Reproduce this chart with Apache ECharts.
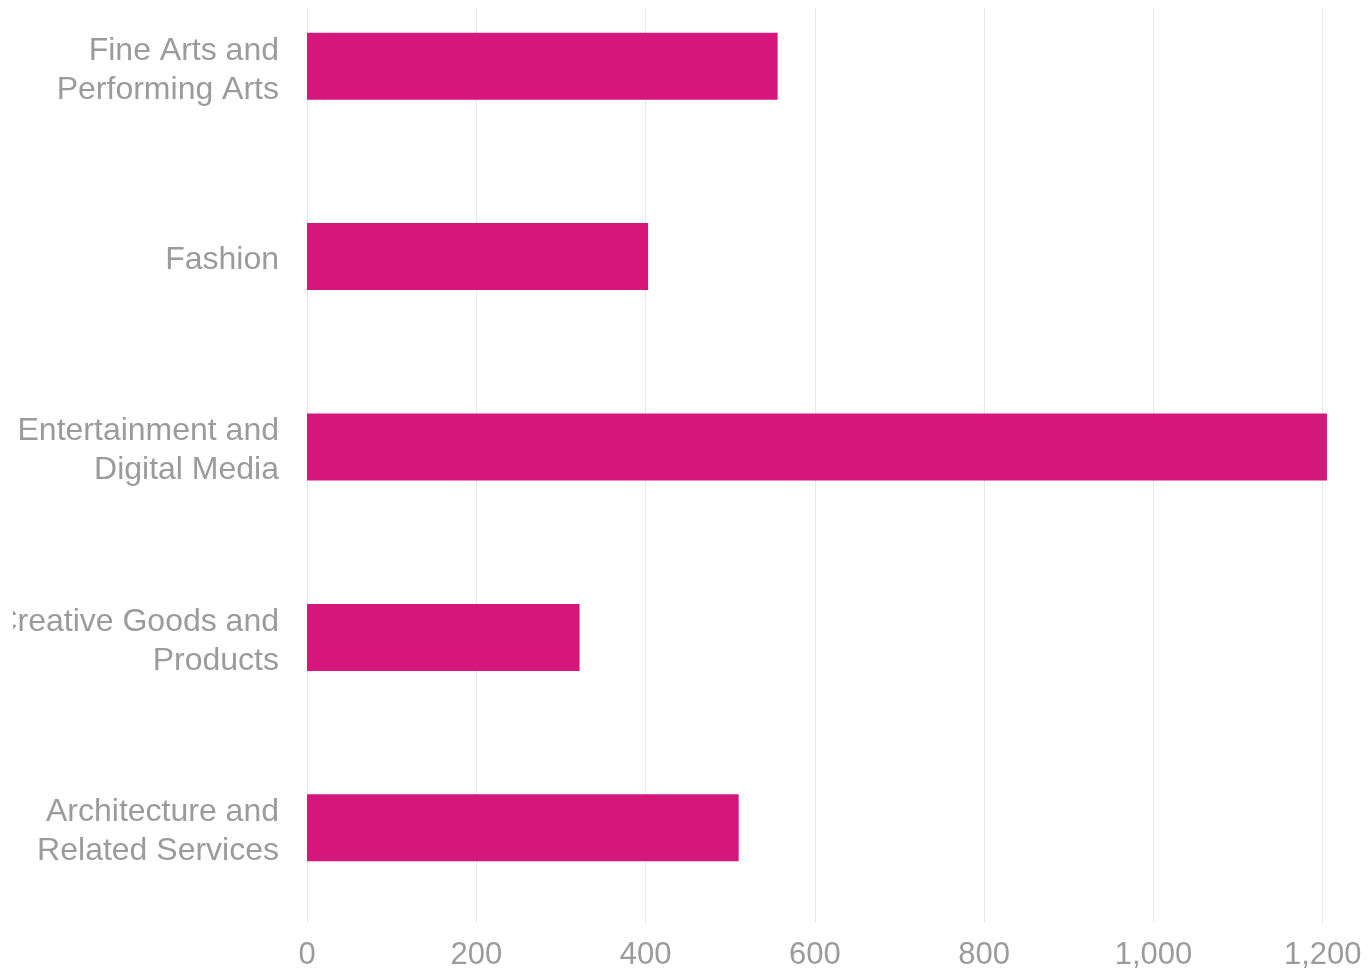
<!DOCTYPE html>
<html>
<head>
<meta charset="utf-8">
<title>Creative industries</title>
<script src="https://cdn.jsdelivr.net/npm/echarts@6/dist/echarts.min.js"></script>
<style>
  html, body { margin: 0; padding: 0; background: #ffffff; overflow: hidden; width: 1370px; height: 968px; }
  #chart { position: absolute; left: 13px; top: 0; width: 1600px; height: 968px; }
</style>
</head>
<body>
<div id="chart"></div>
<script>
// Sectors, listed bottom to top as the category axis draws them
const categories = [
  'Architecture and\nRelated Services',
  'Creative Goods and\nProducts',
  'Entertainment and\nDigital Media',
  'Fashion',
  'Fine Arts and\nPerforming Arts'
];
const values = [510, 322, 1205, 403, 556];
const xTicks = [0, 200, 400, 600, 800, 1000, 1200];

const labelFont = 'Liberation Sans, Arial, sans-serif';
const chart = echarts.init(document.getElementById('chart'), null, { renderer: 'canvas' });

chart.setOption({
  animation: false,
  backgroundColor: '#ffffff',
  grid: [
    // plot area
    { left: 294, top: -29, width: 1185, height: 952, containLabel: false, outerBoundsMode: 'none' },
    // same band layout, nudged down a little, carrying only the category names
    { left: 294, top: -25, width: 1185, height: 952, containLabel: false, outerBoundsMode: 'none' }
  ],
  xAxis: [{
    type: 'value',
    gridIndex: 0,
    min: 0,
    max: 1400,
    interval: 200,
    axisLine: { show: false },
    axisTick: { show: false },
    splitLine: { show: true, lineStyle: { color: '#e8e8e8', width: 1 } },
    axisLabel: {
      color: '#9b9b9b',
      fontFamily: labelFont,
      fontSize: 31,
      margin: 17,
      formatter: function (v) {
        return xTicks.indexOf(v) >= 0 ? v.toLocaleString('en-US') : '';
      }
    }
  }, {
    type: 'value',
    gridIndex: 1,
    show: false
  }],
  yAxis: [{
    type: 'category',
    gridIndex: 0,
    data: categories,
    axisLine: { show: false },
    axisTick: { show: false },
    splitLine: { show: false },
    axisLabel: { show: false }
  }, {
    type: 'category',
    gridIndex: 1,
    data: categories,
    axisLine: { show: false },
    axisTick: { show: false },
    splitLine: { show: false },
    axisLabel: {
      color: '#9b9b9b',
      fontFamily: labelFont,
      fontSize: 32,
      lineHeight: 39,
      margin: 28,
      align: 'right'
    }
  }],
  graphic: [
    { type: 'rect', left: 0, top: 0, z: 100, shape: { width: 1600, height: 8 }, style: { fill: '#ffffff' } }
  ],
  series: [{
    type: 'bar',
    xAxisIndex: 0,
    yAxisIndex: 0,
    data: values,
    barWidth: 67,
    itemStyle: { color: '#d5177b' }
  }]
});
</script>
</body>
</html>
